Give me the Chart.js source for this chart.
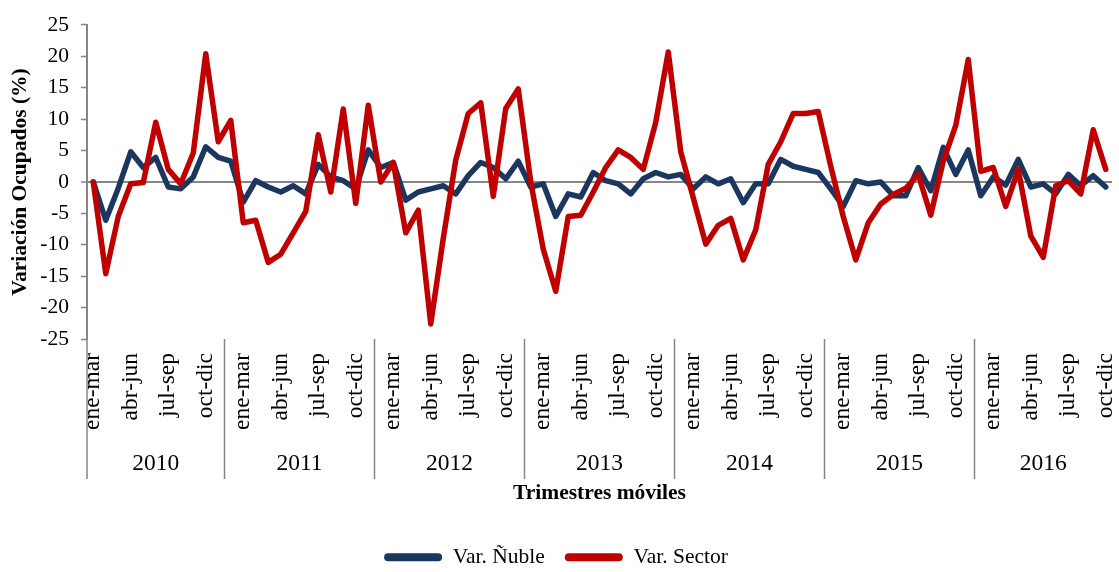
<!DOCTYPE html>
<html>
<head>
<meta charset="utf-8">
<script src="https://cdn.jsdelivr.net/npm/chart.js@4.4.1/dist/chart.umd.min.js"></script>
<style>
  html, body { margin: 0; padding: 0; background: #fff; }
</style>
</head>
<body>
<canvas id="ocupadosChart" width="1119" height="572"></canvas>
<script>
const years = ['2010', '2011', '2012', '2013', '2014', '2015', '2016'];
const trimestres = ['dic-feb', 'ene-mar', 'feb-abr', 'mar-may', 'abr-jun', 'may-jul',
                    'jun-ago', 'jul-sep', 'ago-oct', 'sep-nov', 'oct-dic', 'nov-ene'];
const shownTicks = ['ene-mar', 'abr-jun', 'jul-sep', 'oct-dic'];

// ene-mar 2010 ... oct-dic 2016
const varNuble = [
  0, -6.1, -1.0, 4.8, 2.3, 3.9, -0.8, -1.1, 0.8, 5.6, 3.9,
  3.3, -3.2, 0.2, -0.8, -1.6, -0.6, -1.9, 2.8, 0.8, 0.2, -1.1, 5.1,
  2.3, 3.1, -2.9, -1.6, -1.1, -0.6, -1.9, 1.0, 3.1, 2.3, 0.5, 3.3,
  -0.8, -0.3, -5.5, -1.9, -2.4, 1.5, 0.2, -0.3, -1.9, 0.5, 1.5, 0.8,
  1.2, -1.1, 0.8, -0.3, 0.5, -3.3, -0.3, -0.3, 3.6, 2.5, 2.0, 1.5,
  -1.1, -3.9, 0.2, -0.3, 0, -2.2, -2.2, 2.3, -1.4, 5.5, 1.2, 5.1,
  -2.2, 0.8, -0.5, 3.6, -0.8, -0.3, -1.9, 1.2, -0.6, 1.0, -0.8
];
const varSector = [
  0, -14.6, -5.5, -0.3, -0.1, 9.5, 2.0, -0.3, 4.6, 20.4, 6.4,
  9.8, -6.5, -6.1, -12.8, -11.5, -8.1, -4.7, 7.5, -1.6, 11.6, -3.4, 12.2,
  0, 3.1, -8.1, -4.5, -22.6, -9.0, 3.5, 10.9, 12.6, -2.3, 11.7, 14.8,
  0, -10.7, -17.4, -5.5, -5.3, -1.6, 2.3, 5.1, 3.9, 2.0, 9.5, 20.7,
  4.8, -2.5, -9.9, -6.9, -5.8, -12.4, -7.6, 2.8, 6.4, 10.9, 10.9, 11.2,
  2.5, -5.5, -12.4, -6.5, -3.5, -2.0, -1.0, 1.2, -5.3, 3.3, 9.0, 19.5,
  1.7, 2.3, -3.9, 2.0, -8.6, -12.0, -0.6, 0.2, -1.9, 8.3, 2.0
];

// every year runs dic-feb .. nov-ene; the series starts at ene-mar 2010
const allCats = [], allYears = [];
years.forEach(y => trimestres.forEach(t => { allCats.push(t); allYears.push(y); }));
const categories = allCats.slice(1, 1 + varSector.length);
const categoryYear = allYears.slice(1, 1 + varSector.length);

const serif = "'Liberation Serif', 'Times New Roman', serif";
const gray = '#868686';

// second row of the category axis: year groups with separators
const yearGroups = {
  id: 'yearGroups',
  afterDraw(chart) {
    const xs = chart.scales.x;
    const ctx = chart.ctx;
    const half = (xs.getPixelForValue(1) - xs.getPixelForValue(0)) / 2;
    const top = chart.chartArea.bottom;
    ctx.save();
    ctx.strokeStyle = gray;
    ctx.lineWidth = 1.5;
    ctx.fillStyle = '#000';
    ctx.font = '23.5px ' + serif;
    ctx.textAlign = 'center';
    ctx.textBaseline = 'middle';
    let start = 0;
    for (let i = 1; i <= categoryYear.length; i++) {
      if (i === categoryYear.length || categoryYear[i] !== categoryYear[start]) {
        const x0 = xs.getPixelForValue(start) - half;
        const x1 = xs.getPixelForValue(i - 1) + half;
        ctx.beginPath();
        ctx.moveTo(x0, top);
        ctx.lineTo(x0, 479);
        ctx.stroke();
        ctx.fillText(categoryYear[start], (x0 + x1) / 2, 464);
        start = i;
      }
    }
    ctx.restore();
  }
};

new Chart(document.getElementById('ocupadosChart'), {
  type: 'line',
  data: {
    labels: categories,
    datasets: [{
      label: 'Var. Ñuble',
      data: varNuble,
      borderColor: '#1B3760',
      backgroundColor: '#1B3760',
      borderWidth: 5.5,
      order: 1
    }, {
      label: 'Var. Sector',
      data: varSector,
      borderColor: '#C00000',
      backgroundColor: '#C00000',
      borderWidth: 5.5,
      order: 0
    }]
  },
  options: {
    responsive: false,
    animation: false,
    layout: { padding: { top: 18, right: 7, bottom: -6, left: 0 } },
    elements: {
      point: { radius: 0 },
      line: { tension: 0, borderJoinStyle: 'round', borderCapStyle: 'round' }
    },
    plugins: {
      tooltip: { enabled: false },
      legend: {
        position: 'bottom',
        labels: {
          boxWidth: 58,
          boxHeight: 8,
          useBorderRadius: true,
          borderRadius: 4,
          padding: 20,
          color: '#000',
          font: { family: serif, size: 21.5 },
          sort: (a, b) => a.datasetIndex - b.datasetIndex,
          generateLabels: chart => Chart.defaults.plugins.legend.labels.generateLabels(chart)
            .map(l => Object.assign(l, { lineWidth: 0 }))
        }
      }
    },
    scales: {
      x: {
        offset: true,
        grid: { display: false, drawTicks: false },
        border: { display: false },
        ticks: {
          autoSkip: false,
          minRotation: 90,
          maxRotation: 90,
          padding: 14,
          color: '#000',
          font: { family: serif, size: 23.5 },
          callback: (v, i) => shownTicks.includes(categories[i]) ? categories[i] : ''
        },
        title: {
          display: true,
          text: 'Trimestres móviles',
          color: '#000',
          font: { family: serif, size: 21.5, weight: 'bold' },
          padding: { top: 0, bottom: 20 }
        },
        afterFit: s => { s.height = 187.5; s.paddingLeft = 0; s.paddingRight = 0; }
      },
      y: {
        min: -25,
        max: 25,
        ticks: {
          stepSize: 5,
          padding: 12,
          color: '#000',
          font: { family: serif, size: 21.5 }
        },
        grid: {
          color: c => c.tick && c.tick.value === 0 ? gray : 'rgba(0,0,0,0)',
          lineWidth: c => c.tick && c.tick.value === 0 ? 2 : 1,
          tickColor: gray,
          tickLength: 6,
          tickWidth: 1.5
        },
        border: { display: true, color: gray, width: 2 },
        title: {
          display: true,
          text: 'Variación Ocupados (%)',
          color: '#000',
          font: { family: serif, size: 21.5, weight: 'bold' },
          padding: { top: 8, bottom: 0 }
        },
        afterFit: s => { s.width = 87; }
      }
    }
  },
  plugins: [yearGroups]
});
</script>
</body>
</html>
